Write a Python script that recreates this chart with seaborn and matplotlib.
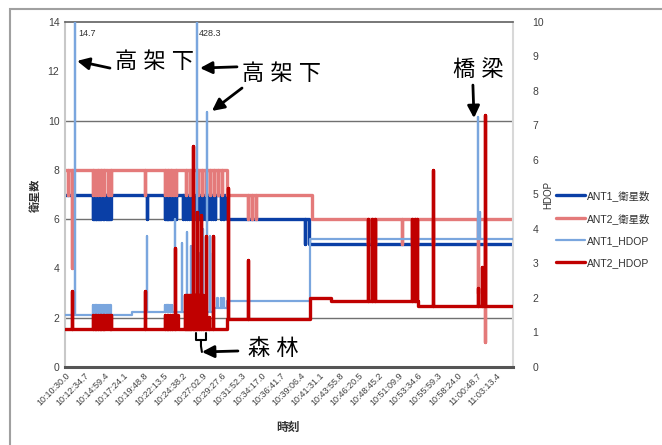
import numpy as np
import pandas as pd
import matplotlib
matplotlib.use("Agg")
import matplotlib.pyplot as plt
import seaborn as sns
from matplotlib.patches import Rectangle

# x axis: category labels, one every 144.7 s
time_labels = ["10:10:30.0", "10:12:34.7", "10:14:59.4", "10:17:24.1", "10:19:48.8",
               "10:22:13.5", "10:24:38.2", "10:27:02.9", "10:29:27.6", "10:31:52.3",
               "10:34:17.0", "10:36:41.7", "10:39:06.4", "10:41:31.1", "10:43:55.8",
               "10:46:20.5", "10:48:45.2", "10:51:09.9", "10:53:34.6", "10:55:59.3",
               "10:58:24.0", "11:00:48.7", "11:03:13.4"]
label_step = 144.7
t_end = 3308

# ANT1 satellites (left axis): level changes + short drops
ant1_sat_base_t = [0, 1196, 1800]
ant1_sat_base_v = [7, 6, 5]
ant1_sat_spike_t = [207, 216, 224, 232, 240, 250, 258, 266, 281, 290, 300, 309, 317, 326,
                    335, 605, 740, 748, 756, 764, 772, 780, 790, 805, 812, 820, 870, 885,
                    900, 915, 935, 955, 985, 1000, 1015, 1035, 1055, 1075, 1090, 1105,
                    1150, 1170, 1772]
ant1_sat_spike_v = [6, 6, 6, 6, 6, 6, 6, 6, 6, 6, 6, 6, 6, 6,
                    6, 6, 6, 6, 6, 6, 6, 6, 6, 6, 6, 6, 6, 6,
                    6, 6, 6, 6, 6, 6, 6, 6, 6, 6, 6, 6,
                    6, 6, 5]

# ANT2 satellites (left axis)
ant2_sat_base_t = [0, 1196, 1823]
ant2_sat_base_v = [8, 7, 6]
ant2_sat_spike_t = [22, 52, 207, 225, 245, 265, 290, 320, 340, 591, 740, 760, 780, 800,
                    820, 890, 920, 945, 980, 1010, 1040, 1070, 1100, 1130, 1160, 1351,
                    1380, 1410, 2237, 2267, 2289, 2488, 2562, 2584, 2600, 2717, 3049, 3101]
ant2_sat_spike_v = [7, 4, 7, 7, 7, 7, 7, 7, 7, 7, 7, 7, 7, 7,
                    7, 7, 7, 7, 7, 7, 7, 7, 7, 7, 7, 6,
                    6, 6, 5, 5, 5, 5, 5, 5, 5, 5, 3, 1]

# ANT1 HDOP (right axis)
ant1_hdop_base_t = [0, 495, 1100, 1196, 1809]
ant1_hdop_base_v = [1.5, 1.6, 1.7, 1.9, 3.7]
ant1_hdop_spike_t = [74, 207, 216, 224, 232, 240, 250, 258, 266, 281, 290, 300, 309, 317,
                     326, 335, 605, 740, 748, 756, 764, 772, 780, 790, 812, 864, 900, 930,
                     975, 1000, 1019, 1048, 1071, 1093, 1125, 1150, 1170, 3049, 3064]
ant1_hdop_spike_v = [14.7, 1.8, 1.8, 1.8, 1.8, 1.8, 1.8, 1.8, 1.8, 1.8, 1.8, 1.8, 1.8, 1.8,
                     1.8, 1.8, 3.8, 1.8, 1.8, 1.8, 1.8, 1.8, 1.8, 1.8, 4.3, 3.6, 3.9, 3.5,
                     428.3, 3.3, 4.0, 7.4, 3.8, 3.3, 2.0, 2.0, 2.0, 7.25, 4.5]

# ANT2 HDOP (right axis)
ant2_hdop_base_t = [0, 1196, 1809, 1964, 2606]
ant2_hdop_base_v = [1.1, 1.4, 2.0, 1.92, 1.77]
ant2_hdop_spike_t = [52, 207, 218, 230, 245, 256, 265, 278, 290, 305, 320, 330, 340, 591,
                     740, 750, 760, 775, 790, 812, 830, 886, 893, 900, 908, 915, 922, 930,
                     945, 952, 960, 968, 975, 990, 1005, 1020, 1040, 1060, 1090, 1203,
                     1351, 2237, 2267, 2289, 2562, 2584, 2600, 2717, 3049, 3080, 3101]
ant2_hdop_spike_v = [2.2, 1.5, 1.5, 1.5, 1.5, 1.5, 1.5, 1.5, 1.5, 1.5, 1.5, 1.5, 1.5, 2.2,
                     1.5, 1.5, 1.5, 1.5, 1.5, 3.45, 1.5, 2.1, 2.1, 2.1, 2.1, 2.1, 2.1, 2.1,
                     6.4, 2.1, 2.1, 2.1, 4.5, 2.1, 4.4, 2.1, 3.8, 1.45, 3.8, 5.2,
                     3.1, 4.3, 4.3, 4.3, 4.3, 4.3, 4.3, 5.7, 2.3, 2.9, 7.3]


def build(base_t, base_v, spike_t, spike_v, width=1.5):
    pts = list(zip(base_t, base_v))
    for t, v in zip(spike_t, spike_v):
        i = np.searchsorted(base_t, t, side="right") - 1
        pts.append((t, v))
        pts.append((t + width, base_v[i]))
    pts.append((t_end, base_v[-1]))
    pts.sort(key=lambda p: p[0])
    return pd.DataFrame(pts, columns=["t", "v"])


ant1_sat = build(ant1_sat_base_t, ant1_sat_base_v, ant1_sat_spike_t, ant1_sat_spike_v)
ant2_sat = build(ant2_sat_base_t, ant2_sat_base_v, ant2_sat_spike_t, ant2_sat_spike_v)
ant1_hdop = build(ant1_hdop_base_t, ant1_hdop_base_v, ant1_hdop_spike_t, ant1_hdop_spike_v)
ant2_hdop = build(ant2_hdop_base_t, ant2_hdop_base_v, ant2_hdop_spike_t, ant2_hdop_spike_v)

sns.set_theme(style="white")
plt.rcParams["font.family"] = ["Liberation Sans", "Noto Sans CJK JP"]

fig = plt.figure(figsize=(6.62, 4.45), dpi=100)
ax = fig.add_axes([65 / 662, 1 - 367 / 445, 448 / 662, 345 / 445])
ax2 = ax.twinx()

c_ant1_sat = "#0a3fa6"
c_ant2_sat = "#e47a7a"
c_ant1_hdop = "#7aa6de"
c_ant2_hdop = "#c00000"

common = dict(x="t", y="v", estimator=None, sort=False, errorbar=None, drawstyle="steps-post")
sns.lineplot(data=ant1_sat, ax=ax, color=c_ant1_sat, linewidth=2.4, label="ANT1_衛星数", **common)
sns.lineplot(data=ant2_sat, ax=ax, color=c_ant2_sat, linewidth=2.4, label="ANT2_衛星数", **common)
sns.lineplot(data=ant1_hdop, ax=ax2, color=c_ant1_hdop, linewidth=1.6, label="ANT1_HDOP", **common)
sns.lineplot(data=ant2_hdop, ax=ax2, color=c_ant2_hdop, linewidth=2.4, label="ANT2_HDOP", **common)

# gridlines
for g in [2, 6, 10]:
    ax.axhline(g, color="#707070", lw=1, zorder=0)

ax.set_xlim(0, t_end)
ax.set_ylim(0, 14)
ax2.set_ylim(0, 10)
ax.set_yticks(range(0, 15, 2))
ax2.set_yticks(range(0, 11))
ax.set_xticks([i * label_step for i in range(len(time_labels))])
ax.set_xticklabels(time_labels, rotation=45, ha="right", rotation_mode="anchor", fontsize=6.5)
ax.tick_params(axis="both", length=0, colors="#404040", labelsize=7.5, pad=4)
ax.tick_params(axis="x", labelsize=6.5, pad=3)
ax2.tick_params(axis="y", length=0, colors="#404040", labelsize=7.5, pad=14)
ax.set_xlabel("")
ax.set_ylabel("")
ax2.set_ylabel("")

for s in ["left", "right", "top", "bottom"]:
    ax2.spines[s].set_visible(False)
ax.spines["left"].set_color("#c8c8c8")
ax.spines["left"].set_linewidth(1.5)
ax.spines["right"].set_color("#d8d8d8")
ax.spines["right"].set_linewidth(1.5)
ax.spines["top"].set_color("#606060")
ax.spines["top"].set_linewidth(1.2)
ax.spines["bottom"].set_color("#555555")
ax.spines["bottom"].set_linewidth(2.2)

# legend outside on the right
h1, l1 = ax.get_legend_handles_labels()
h2, l2 = ax2.get_legend_handles_labels()
ax.get_legend().remove()
ax2.get_legend().remove()
fig.legend(h1 + h2, l1 + l2, loc="center left", bbox_to_anchor=(551 / 662, 1 - 229 / 445),
           frameon=False, fontsize=7.5, handlelength=2.8, handletextpad=0.2,
           labelspacing=1.15, borderpad=0, labelcolor="#303030")

# axis titles
fig.text(36 / 662, 1 - 195 / 445, "衛星数", rotation=90, ha="center", va="center",
         fontsize=8, fontweight="bold", color="#303030")
fig.text(548 / 662, 1 - 195 / 445, "HDOP", rotation=90, ha="center", va="center",
         fontsize=7, color="#303030")
fig.text(288 / 662, 1 - 428 / 445, "時刻", ha="center", va="center",
         fontsize=8.5, fontweight="bold", color="#303030")

# data labels for off-scale HDOP values
ax2.text(96, 13.55, "14.7", transform=ax.transData, fontsize=6.5, color="#303030", va="center")
ax2.text(989, 13.55, "428.3", transform=ax.transData, fontsize=6.5, color="#303030", va="center")

# annotations (in left-axis units)
arrow = dict(arrowstyle="-|>", color="black", lw=2, mutation_scale=18, shrinkA=0, shrinkB=0)
big = dict(fontsize=16, color="black", ha="center", va="center", transform=ax.transData)
ax2.text(664, 12.34, "高 架 下", **big)
ax2.annotate("", xy=(89, 12.42), xytext=(332, 12.13), xycoords=ax.transData,
             textcoords=ax.transData, arrowprops=arrow)
ax2.text(1602, 11.85, "高 架 下", **big)
ax2.annotate("", xy=(997, 12.13), xytext=(1270, 12.18), xycoords=ax.transData,
             textcoords=ax.transData, arrowprops=arrow)
ax2.annotate("", xy=(1085, 10.39), xytext=(1307, 11.32), xycoords=ax.transData,
             textcoords=ax.transData, arrowprops=arrow)
ax2.text(3049, 12.05, "橋 梁", **big)
ax2.annotate("", xy=(3020, 10.1), xytext=(3012, 11.44), xycoords=ax.transData,
             textcoords=ax.transData, arrowprops=arrow)
ax2.text(1536, 0.69, "森 林", **big)
ax2.annotate("", xy=(1011, 0.61), xytext=(1277, 0.65), xycoords=ax.transData,
             textcoords=ax.transData, arrowprops=arrow)
ax2.plot([967, 967, 1041, 1041], [1.38, 1.10, 1.10, 1.38], color="black", lw=1.5,
         transform=ax.transData)
ax2.plot([1004, 1004, 1011], [1.10, 0.85, 0.61], color="black", lw=1.5,
         transform=ax.transData)

# outer chart border
fig.patches.append(Rectangle((10 / 662, -0.1), 1.2, 1 - 9 / 445 + 0.1, transform=fig.transFigure,
                             fill=False, edgecolor="#a0a0a0", lw=1.5))

fig.savefig("out.png", dpi=100)
